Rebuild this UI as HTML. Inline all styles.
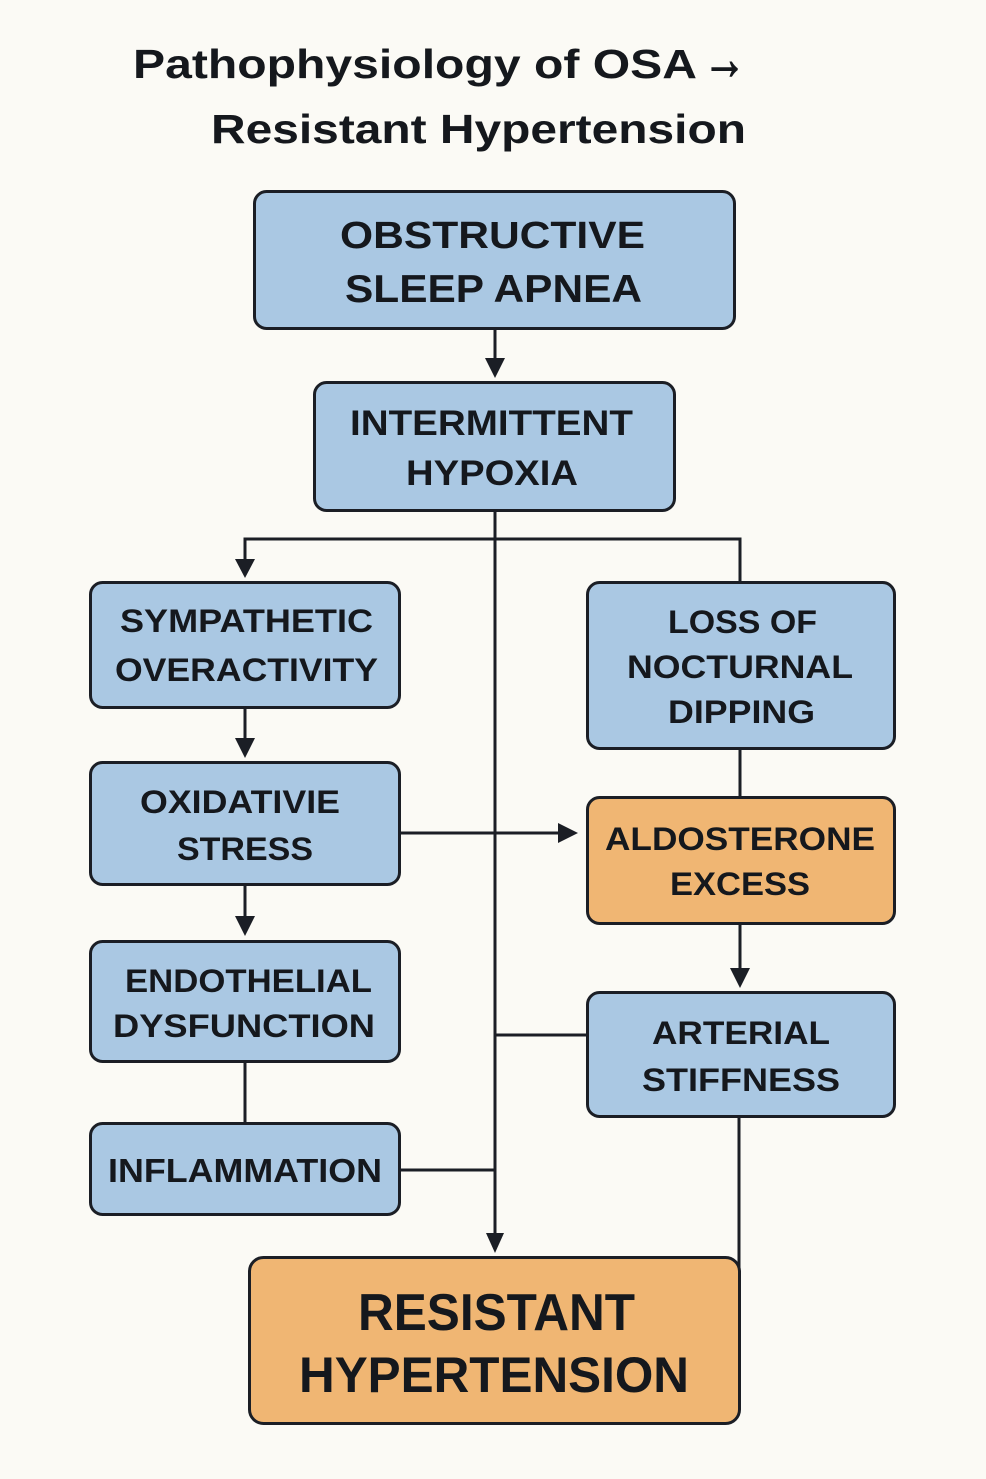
<!DOCTYPE html>
<html>
<head>
<meta charset="utf-8">
<style>
  html,body{margin:0;padding:0;background:#fbfaf5;}
  svg{display:block;}
  .t{font-family:"Liberation Sans",Arial,sans-serif;font-weight:bold;fill:#15181d;}
  .box{stroke:#1b1e25;stroke-width:3;}
  .blue{fill:#aac8e3;}
  .orange{fill:#f0b673;}
  .ln{stroke:#1b1e25;stroke-width:3;fill:none;}
  .ah{fill:#1b1e25;}
</style>
</head>
<body>
<svg width="986" height="1479" viewBox="0 0 986 1479" xmlns="http://www.w3.org/2000/svg">
  <rect x="0" y="0" width="986" height="1479" fill="#fbfaf5"/>

  <!-- Title -->
  <text class="t" x="133" y="78" font-size="41" textLength="564" lengthAdjust="spacingAndGlyphs">Pathophysiology of OSA</text>
  <text class="t" x="703" y="79" font-size="60" textLength="43" lengthAdjust="spacingAndGlyphs" stroke="#15181d" stroke-width="1.2">→</text>
  <text class="t" x="211" y="143" font-size="41" textLength="535" lengthAdjust="spacingAndGlyphs">Resistant Hypertension</text>

  <!-- Connectors -->
  <line class="ln" x1="495" y1="329" x2="495" y2="360"/>
  <polygon class="ah" points="485,358 505,358 495,378"/>

  <line class="ln" x1="495" y1="511" x2="495" y2="1236"/>
  <polygon class="ah" points="486,1233 504,1233 495,1253"/>

  <polyline class="ln" points="245,562 245,539 740,539 740,582"/>
  <polygon class="ah" points="235,559 255,559 245,578"/>

  <line class="ln" x1="245" y1="708" x2="245" y2="740"/>
  <polygon class="ah" points="235,738 255,738 245,758"/>

  <line class="ln" x1="245" y1="885" x2="245" y2="918"/>
  <polygon class="ah" points="235,916 255,916 245,936"/>

  <line class="ln" x1="245" y1="1062" x2="245" y2="1123"/>

  <line class="ln" x1="400" y1="833" x2="560" y2="833"/>
  <polygon class="ah" points="558,823 558,843 578,833"/>

  <line class="ln" x1="740" y1="749" x2="740" y2="797"/>

  <line class="ln" x1="740" y1="924" x2="740" y2="970"/>
  <polygon class="ah" points="730,968 750,968 740,988"/>

  <line class="ln" x1="495" y1="1035" x2="587" y2="1035"/>
  <line class="ln" x1="400" y1="1170" x2="495" y2="1170"/>

  <line class="ln" x1="739" y1="1117" x2="739" y2="1268"/>

  <!-- Boxes -->
  <rect class="box blue" x="254.5" y="191.5" width="480" height="137" rx="12"/>
  <rect class="box blue" x="314.5" y="382.5" width="360" height="128" rx="12"/>

  <rect class="box blue" x="90.5" y="582.5" width="309" height="125" rx="12"/>
  <rect class="box blue" x="90.5" y="762.5" width="309" height="122" rx="12"/>
  <rect class="box blue" x="90.5" y="941.5" width="309" height="120" rx="12"/>
  <rect class="box blue" x="90.5" y="1123.5" width="309" height="91" rx="12"/>

  <rect class="box blue" x="587.5" y="582.5" width="307" height="166" rx="12"/>
  <rect class="box orange" x="587.5" y="797.5" width="307" height="126" rx="12"/>
  <rect class="box blue" x="587.5" y="992.5" width="307" height="124" rx="12"/>

  <rect class="box orange" x="249.5" y="1257.5" width="490" height="166" rx="14"/>

  <!-- Box labels -->
  <text class="t" x="340" y="248" font-size="38" textLength="305" lengthAdjust="spacingAndGlyphs">OBSTRUCTIVE</text>
  <text class="t" x="345" y="302" font-size="39" textLength="297" lengthAdjust="spacingAndGlyphs">SLEEP APNEA</text>

  <text class="t" x="350" y="435" font-size="35" textLength="283" lengthAdjust="spacingAndGlyphs">INTERMITTENT</text>
  <text class="t" x="406" y="485" font-size="35" textLength="172" lengthAdjust="spacingAndGlyphs">HYPOXIA</text>

  <text class="t" x="120" y="632" font-size="32" textLength="253" lengthAdjust="spacingAndGlyphs">SYMPATHETIC</text>
  <text class="t" x="115" y="681" font-size="32" textLength="263" lengthAdjust="spacingAndGlyphs">OVERACTIVITY</text>

  <text class="t" x="140" y="813" font-size="32" textLength="200" lengthAdjust="spacingAndGlyphs">OXIDATIVIE</text>
  <text class="t" x="177" y="860" font-size="32" textLength="136" lengthAdjust="spacingAndGlyphs">STRESS</text>

  <text class="t" x="125" y="992" font-size="32" textLength="247" lengthAdjust="spacingAndGlyphs">ENDOTHELIAL</text>
  <text class="t" x="113" y="1037" font-size="32" textLength="262" lengthAdjust="spacingAndGlyphs">DYSFUNCTION</text>

  <text class="t" x="108" y="1182" font-size="33" textLength="274" lengthAdjust="spacingAndGlyphs">INFLAMMATION</text>

  <text class="t" x="668" y="633" font-size="32" textLength="149" lengthAdjust="spacingAndGlyphs">LOSS OF</text>
  <text class="t" x="627" y="678" font-size="32" textLength="226" lengthAdjust="spacingAndGlyphs">NOCTURNAL</text>
  <text class="t" x="668" y="723" font-size="32" textLength="147" lengthAdjust="spacingAndGlyphs">DIPPING</text>

  <text class="t" x="605" y="850" font-size="32" textLength="270" lengthAdjust="spacingAndGlyphs">ALDOSTERONE</text>
  <text class="t" x="670" y="895" font-size="32" textLength="140" lengthAdjust="spacingAndGlyphs">EXCESS</text>

  <text class="t" x="652" y="1044" font-size="32" textLength="178" lengthAdjust="spacingAndGlyphs">ARTERIAL</text>
  <text class="t" x="642" y="1091" font-size="32" textLength="198" lengthAdjust="spacingAndGlyphs">STIFFNESS</text>

  <text class="t" x="358" y="1330" font-size="52" textLength="277" lengthAdjust="spacingAndGlyphs">RESISTANT</text>
  <text class="t" x="299" y="1392" font-size="50" textLength="390" lengthAdjust="spacingAndGlyphs">HYPERTENSION</text>
</svg>
</body>
</html>
